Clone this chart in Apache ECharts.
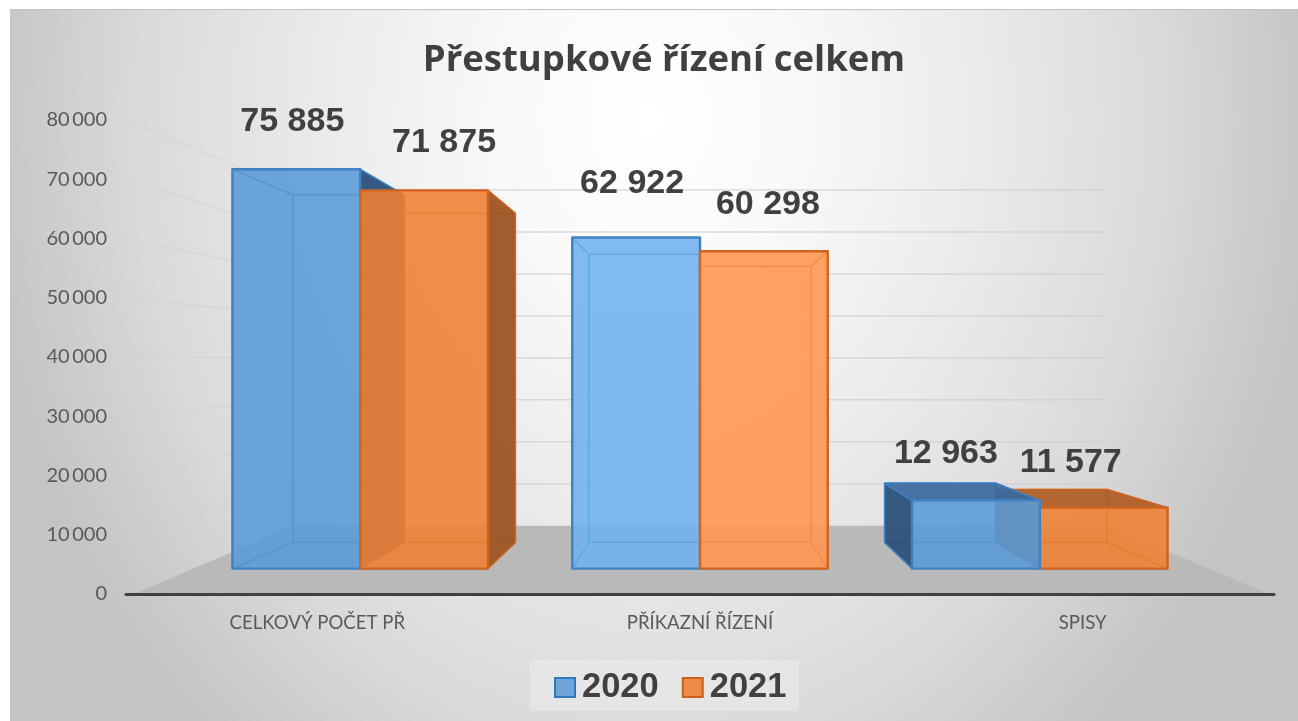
<!DOCTYPE html>
<html><head><meta charset="utf-8">
<style>
html,body{margin:0;padding:0;background:#fff;width:1298px;height:721px;overflow:hidden}
#bg{position:absolute;left:10px;top:9px;width:1288px;height:712px;border-top:1px solid #c4c4c4;box-sizing:border-box;
background:radial-gradient(ellipse 670px 820px at 640px 110px,#ffffff 0%,#f9f9f9 22%,#e9e9e9 52%,#dadada 76%,#c4c4c4 100%)}
#chart{position:absolute;left:0;top:0;width:1298px;height:721px;filter:blur(0.45px)}
</style>
<script src="https://cdn.jsdelivr.net/npm/echarts@6/dist/echarts.min.js"></script>
</head><body><div id="bg"></div><div id="chart"></div>
<script>
const titleText = 'Přestupkové řízení celkem';
const categories = ['CELKOVÝ POČET PŘ', 'PŘÍKAZNÍ ŘÍZENÍ', 'SPISY'];
const seriesNames = ['2020', '2021'];
const values2020 = [75885, 62922, 12963];
const values2021 = [71875, 60298, 11577];
const yTicks = [0, 10000, 20000, 30000, 40000, 50000, 60000, 70000, 80000];

/* perspective scene */
const EYE = [700, 367];
const S_FRONT = 0.888, S_BACK = 0.773, S_WALL = 0.708, WALL_LIFT = -2;
const BAR_SHARE = 0.376;
const NUDGE = {
  '2020': [[-4, -48], [-4, -54], [-30, -47]],
  '2021': [[20, -48], [4, -47], [-33, -45]]
};
const PAL = {
  '2020': {front:'rgba(91,155,213,0.70)', frontLit:'rgba(112,178,238,0.70)', inner:'rgba(85,150,215,0.60)', innerLit:'rgba(110,175,238,0.60)', outer:'rgba(38,74,112,0.86)', top:'rgba(52,98,150,0.80)', edge:'#3f82c4', edgeIn:'rgba(62,125,190,0.7)'},
  '2021': {front:'rgba(240,128,50,0.70)', frontLit:'rgba(255,150,78,0.70)', inner:'rgba(240,130,55,0.60)', innerLit:'rgba(255,150,80,0.60)', outer:'rgba(150,82,35,0.88)', top:'rgba(168,88,34,0.82)', edge:'#cf6420', edgeIn:'rgba(205,100,35,0.6)'}
};
const P = (p, s) => [EYE[0] + (p[0] - EYE[0]) * s, EYE[1] + (p[1] - EYE[1]) * s];
const fmt = v => String(v).replace(/\B(?=(\d{3})+$)/g, ' ');

function poly(points, fill, stroke, lw, z2) {
  return {type:'polygon', shape:{points}, z2, style:{fill, stroke, lineWidth:lw, lineJoin:'round'}};
}
function line(a, b, stroke, lw, z2) {
  return {type:'line', shape:{x1:a[0], y1:a[1], x2:b[0], y2:b[1]}, z2, style:{stroke, lineWidth:lw, fill:null}};
}

function boxRenderer(name, order) {
  return function (params, api) {
    const i = api.value(0), v = api.value(1);
    const band = api.size([1, 0])[0];
    const c = api.coord([i, 0]), t = api.coord([i, v]);
    const half = band * BAR_SHARE;
    const x0 = order === 0 ? c[0] - half : c[0], x1 = x0 + half;
    const yb = c[1], yt = t[1];
    const col = PAL[name];
    const f = (x, y) => P([x, y], S_FRONT), b = (x, y) => P([x, y], S_BACK);
    const fl = f(x0,yb), fr = f(x1,yb), ftr = f(x1,yt), ftl = f(x0,yt);
    const bl = b(x0,yb), br = b(x1,yb), btr = b(x1,yt), btl = b(x0,yt);
    const rightOfEye = c[0] > EYE[0] + band * 0.5;
    const base = rightOfEye ? (order === 0 ? 200 : 100) : (order === 0 ? 100 : 200);
    const kids = [];
    const leftOuter = x0 > EYE[0], rightOuter = x1 < EYE[0], topOuter = yt > EYE[1];
    const lit = !leftOuter && !rightOuter;
    const inner = lit ? col.innerLit : col.inner, front = lit ? col.frontLit : col.front;
    kids.push(poly([btl,btr,br,bl], inner, col.edgeIn, 1.2, base));
    kids.push(poly([fl,fr,br,bl], inner, col.edgeIn, 1.2, base + 1));
    if (!leftOuter)  kids.push(poly([ftl,btl,bl,fl], inner, col.edgeIn, 1.2, base + 2));
    if (!rightOuter) kids.push(poly([ftr,btr,br,fr], inner, col.edgeIn, 1.2, base + 2));
    if (!topOuter)   kids.push(poly([ftl,ftr,btr,btl], inner, col.edgeIn, 1.2, base + 3));
    if (leftOuter)   kids.push(poly([ftl,btl,bl,fl], col.outer, col.edge, 1.5, base + 4));
    if (rightOuter)  kids.push(poly([ftr,btr,br,fr], col.outer, col.edge, 1.5, base + 4));
    if (topOuter)    kids.push(poly([ftl,ftr,btr,btl], col.top, col.edge, 1.5, base + 4));
    kids.push(poly([ftl,ftr,fr,fl], front, col.edge, 2.4, base + 5));
    const n = NUDGE[name][i];
    kids.push({type:'text', z2:900, style:{
      text: fmt(v), x:(ftl[0] + ftr[0]) / 2 + n[0], y: ftl[1] + n[1],
      align:'center', verticalAlign:'middle',
      font:'bold 34px "Liberation Sans", Arial, sans-serif', fill:'#404040'}});
    return {type:'group', children:kids};
  };
}

function wallRenderer(params, api) {
  const v = api.value(0);
  const g = params.coordSys;
  const y = api.coord([0, v])[1];
  const L = [g.x, y], R = [g.x + g.width, y];
  const bl = P(L, S_WALL), br = P(R, S_WALL);
  bl[1] += WALL_LIFT; br[1] += WALL_LIFT;
  if (v === 0) {
    return {type:'group', children:[poly([[g.x + 8, y], [g.x + g.width - 5, y], br, bl], '#b9b9b9', null, 0, 1)]};
  }
  return {type:'group', children:[
    line(L, bl, 'rgba(205,205,205,0.4)', 1.5, 2),
    line(bl, br, 'rgba(205,205,205,0.7)', 1.5, 2)
  ]};
}

const chart = echarts.init(document.getElementById('chart'), null, {renderer:'canvas'});
chart.setOption({
  animation:false,
  backgroundColor:'transparent',
  title:{text:titleText, left:659, top:37, textAlign:'center',
    textStyle:{fontFamily:'Open Sans', fontWeight:'bold', fontSize:36.5, color:'#404040'}},
  legend:{data:seriesNames, left:530, top:660, orient:'horizontal', icon:'rect',
    itemWidth:20, itemHeight:19, itemGap:23, padding:[10,12,6,24],
    backgroundColor:'rgba(240,240,240,0.45)',
    textStyle:{fontFamily:'Liberation Sans', fontWeight:'bold', fontSize:34.5, color:'#404040', padding:[0,0,0,2]}},
  grid:{left:126, top:120, width:1148, height:474, containLabel:false},
  xAxis:{type:'category', data:categories, boundaryGap:true, z:5,
    axisTick:{show:false},
    axisLine:{lineStyle:{color:'#404040', width:3}},
    axisLabel:{margin:19, fontFamily:'Lato', fontSize:18.6, color:'#595959', interval:0}},
  yAxis:{type:'value', min:0, max:80000, interval:10000, splitLine:{show:false},
    axisLine:{show:false}, axisTick:{show:false},
    axisLabel:{margin:19, fontFamily:'Lato', fontSize:20, color:'#595959',
      formatter:v => String(v).replace(/\B(?=(\d{3})+$)/g, '\u2009')}},
  series:[
    {type:'custom', name:'wall', coordinateSystem:'cartesian2d', z:1, silent:true,
      data:yTicks.map(v => [v]), encode:{y:0}, renderItem:wallRenderer},
    {type:'custom', name:seriesNames[0], coordinateSystem:'cartesian2d', z:2, clip:false,
      itemStyle:{color:'#6fa5d8', borderColor:'#2f78bd', borderWidth:2},
      data:categories.map((c,i) => [i, values2020[i]]), encode:{x:0, y:1},
      renderItem:boxRenderer(seriesNames[0], 0)},
    {type:'custom', name:seriesNames[1], coordinateSystem:'cartesian2d', z:2, clip:false,
      itemStyle:{color:'#ee8a48', borderColor:'#c9601c', borderWidth:2},
      data:categories.map((c,i) => [i, values2021[i]]), encode:{x:0, y:1},
      renderItem:boxRenderer(seriesNames[1], 1)}
  ]
});
</script></body></html>
